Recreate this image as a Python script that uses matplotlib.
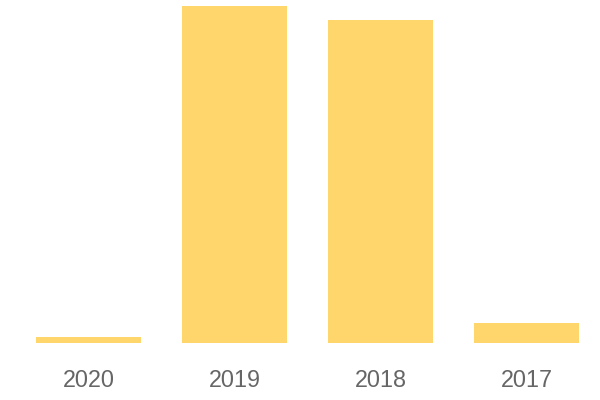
import matplotlib
matplotlib.use("Agg")
import matplotlib.pyplot as plt
import numpy as np

years = ["2020", "2019", "2018", "2017"]
values = [6, 337.5, 323.5, 20]
y_max = 343.5

BAR = "#FFD66B"
TEXT = "#666666"

plt.rcParams["font.family"] = ["Liberation Sans", "DejaVu Sans"]

fig = plt.figure(figsize=(6, 4), dpi=100)
ax = fig.add_axes([15.5 / 600, (400 - 343.3) / 400, 584 / 600, 343.3 / 400])
x = np.arange(len(years))
ax.bar(x, values, width=105 / 146, color=BAR, edgecolor="none")
ax.set_xlim(-0.5, len(years) - 0.5)
ax.set_ylim(0, y_max)
ax.set_xticks(x)
ax.set_xticklabels(years, fontsize=16.8, color=TEXT)
ax.tick_params(axis="x", length=0, pad=18.5)
ax.set_yticks([])
for s in ax.spines.values():
    s.set_visible(False)

fig.savefig("out.png", dpi=100)
